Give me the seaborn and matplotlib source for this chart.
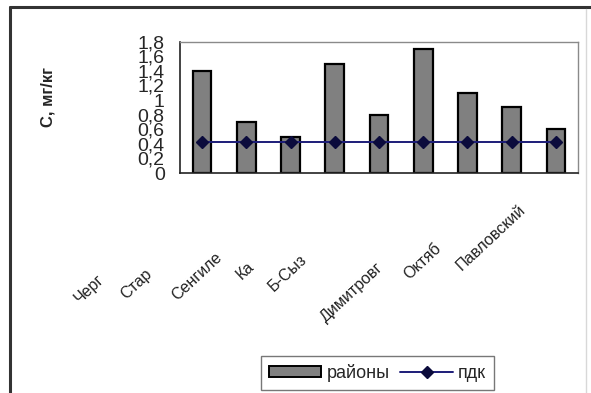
import matplotlib
matplotlib.use("Agg")
import matplotlib.pyplot as plt
import seaborn as sns
import pandas as pd
from matplotlib.lines import Line2D
from matplotlib.patches import Patch

# --- data -------------------------------------------------------------
district_no = [1, 2, 3, 4, 5, 6, 7, 8, 9]
concentration = [1.4, 0.7, 0.5, 1.5, 0.8, 1.7, 1.1, 0.9, 0.6]
pdk = [0.42, 0.42, 0.42, 0.42, 0.42, 0.42, 0.42, 0.42, 0.42]
district_labels = ["Черг", "Стар", "Сенгиле", "Ка", "Б-Сыз",
                   "Димитровг", "Октяб", "Павловский"]
y_ticks = [0, 0.2, 0.4, 0.6, 0.8, 1.0, 1.2, 1.4, 1.6, 1.8]
y_tick_labels = ["0", "0,2", "0,4", "0,6", "0,8", "1", "1,2", "1,4", "1,6", "1,8"]

df = pd.DataFrame({"район": district_no, "C": concentration, "ПДК": pdk})

# --- style ------------------------------------------------------------
sns.set_style("white")
plt.rcParams["font.family"] = ["Liberation Sans", "DejaVu Sans"]

W, H = 591, 393
fig = plt.figure(figsize=(W / 100, H / 100), dpi=100)
ax = fig.add_axes([180 / W, 1 - 173 / H, (578 - 180) / W, (173 - 41.7) / H])

sns.barplot(data=df, x="район", y="C", order=district_no, color="#808080",
            saturation=1, edgecolor="black", linewidth=1.6, width=0.42, ax=ax)
ax.plot(range(len(pdk)), df["ПДК"], color="#1c1c78", lw=1.4, marker="D",
        markersize=6, markerfacecolor="#0b0b3c", markeredgecolor="#0b0b3c")

ax.set_xlim(-0.5, len(district_no) - 0.5)
ax.set_ylim(0, 1.8)
ax.set_yticks(y_ticks)
ax.set_yticklabels(y_tick_labels, fontsize=14)
ax.tick_params(axis="y", direction="inout", length=10, width=0.9,
               color="#333333", pad=6)
ax.set_xticks([i - 0.5 for i in range(len(district_no) + 1)])
ax.set_xticklabels([])
ax.tick_params(axis="x", direction="out", length=5, width=0.9, color="#555555")
ax.set_xlabel("")
ax.set_ylabel("")

for side in ["left", "bottom"]:
    ax.spines[side].set_color("#222222")
    ax.spines[side].set_linewidth(1.2)
for side in ["top", "right"]:
    ax.spines[side].set_color("#8a8a8a")
    ax.spines[side].set_linewidth(1.0)

# rotated district names under the axis
label_centers = [(89, 289), (136, 284), (197, 276), (245, 271), (288, 273),
                 (352, 292), (423, 261), (491, 238)]
for text, (px, py) in zip(district_labels, label_centers):
    fig.text(px / W, 1 - py / H, text, rotation=43, ha="center", va="center",
             rotation_mode="anchor", fontsize=11.5, color="#222222")

# axis title
fig.text(48 / W, 1 - 97 / H, "С, мг/кг", rotation=90, ha="center",
         va="center", fontsize=12, fontweight="bold")

# legend
handles = [Patch(facecolor="#808080", edgecolor="black", linewidth=1.4),
           Line2D([0], [0], color="#1c1c78", lw=1.4, marker="D", markersize=6,
                  markerfacecolor="#0b0b3c", markeredgecolor="#0b0b3c")]
leg = fig.legend(handles, ["районы", "пдк"], ncol=2, loc="center",
                 bbox_to_anchor=(377.5 / W, 1 - 373 / H), frameon=True,
                 fancybox=False, edgecolor="#555555", fontsize=13,
                 handlelength=2.9, handleheight=0.6, handletextpad=0.3,
                 columnspacing=0.6, borderpad=0.45)
leg.get_frame().set_linewidth(1.0)

# outer chart frame
fig.add_artist(Line2D([10 / W, 10 / W], [0, 1 - 7 / H], color="#333333",
                      lw=2.2, transform=fig.transFigure))
fig.add_artist(Line2D([10 / W, 1], [1 - 7 / H, 1 - 7 / H], color="#333333",
                      lw=2.2, transform=fig.transFigure))
fig.add_artist(Line2D([586 / W, 586 / W], [0, 1 - 9 / H], color="#d8d8d8",
                      lw=1.0, transform=fig.transFigure))

fig.savefig("out.png", dpi=100)
